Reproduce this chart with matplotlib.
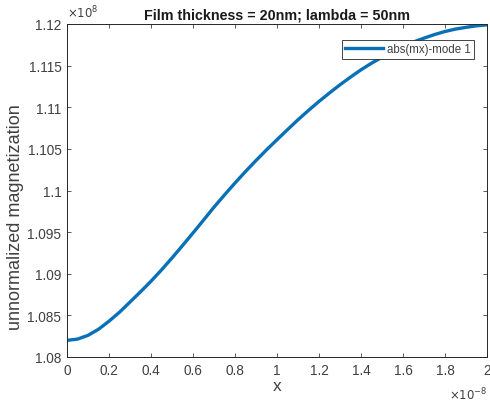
import matplotlib
matplotlib.use("Agg")
import matplotlib.pyplot as plt
from matplotlib.ticker import FuncFormatter, MultipleLocator

plt.rcParams['font.family'] = ['Liberation Sans', 'DejaVu Sans']

# Position across the film (m), sampled every 0.05e-8 m
x_pos = [i * 0.05e-8 for i in range(41)]
# Magnitude of the mx mode profile at each position
mx_abs = [1.08200e8, 1.08215e8, 1.08260e8, 1.08333e8, 1.08430e8, 1.08538e8,
          1.08660e8, 1.08783e8, 1.08910e8, 1.09046e8, 1.09190e8, 1.09338e8,
          1.09490e8, 1.09644e8, 1.09800e8, 1.09947e8, 1.10090e8, 1.10228e8,
          1.10360e8, 1.10488e8, 1.10610e8, 1.10731e8, 1.10850e8, 1.10962e8,
          1.11070e8, 1.11172e8, 1.11270e8, 1.11362e8, 1.11450e8, 1.11529e8,
          1.11600e8, 1.11667e8, 1.11730e8, 1.11784e8, 1.11830e8, 1.11873e8,
          1.11910e8, 1.11939e8, 1.11960e8, 1.11978e8, 1.11990e8]

title = "Film thickness = 20nm; lambda = 50nm"
series_label = "abs(mx)-mode 1"
x_label = "x"
y_label = "unnormalized magnetization"

line_color = "#0870B6"
text_color = "#404040"

fig = plt.figure(figsize=(4.9, 4.02), dpi=100)
ax = fig.add_axes([67 / 490, 44 / 402, 420 / 490, 333 / 402])

ax.plot(x_pos, mx_abs, color=line_color, lw=2.4, label=series_label,
        solid_joinstyle='round')

ax.set_xlim(0, 2e-8)
ax.set_ylim(1.08e8, 1.12e8)
ax.xaxis.set_major_locator(MultipleLocator(0.2e-8))
ax.yaxis.set_major_locator(MultipleLocator(0.005e8))
ax.xaxis.set_major_formatter(FuncFormatter(lambda v, p: "%g" % round(v / 1e-8, 4)))
ax.yaxis.set_major_formatter(FuncFormatter(lambda v, p: "%g" % round(v / 1e8, 4)))

ax.tick_params(direction='in', length=3, width=0.6, top=True, right=True,
               labelsize=9.8, colors=text_color, pad=4)
for s in ax.spines.values():
    s.set_linewidth(0.7)
    s.set_color("#262626")

ax.set_title(title, fontsize=10.3, fontweight='bold', color='#1a1a1a', pad=4)
ax.set_xlabel(x_label, fontsize=12.5, color=text_color, labelpad=1)
ax.set_ylabel(y_label, fontsize=13, color=text_color)
ax.yaxis.set_label_coords(-0.102, 0.423)

# Exponent multipliers for both axes
ax.text(0.0, 1.012, r"$\times10^{8}$", transform=ax.transAxes, fontsize=8.5,
        color=text_color, ha='left', va='bottom')
ax.text(1.0, -0.085, r"$\times10^{-8}$", transform=ax.transAxes, fontsize=8.5,
        color=text_color, ha='right', va='top')

leg = ax.legend(loc='upper right', bbox_to_anchor=(0.969, 0.952),
                borderaxespad=0, fontsize=8.3, handlelength=3.3,
                handletextpad=0.3, borderpad=0.3, fancybox=False,
                framealpha=1, edgecolor='#262626')
leg.get_frame().set_linewidth(0.6)
for t in leg.get_texts():
    t.set_color(text_color)

fig.savefig("out.png", dpi=100)
